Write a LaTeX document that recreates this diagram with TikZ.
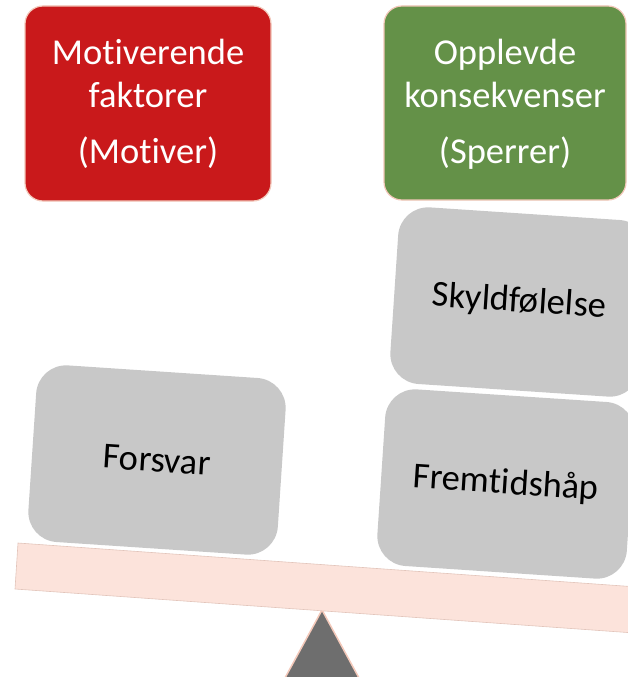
\documentclass[tikz,border=0pt]{standalone}
\usepackage{fontspec}
\setmainfont{Carlito}[Ligatures={NoCommon}]
\definecolor{motivred}{HTML}{C9191B}
\definecolor{barriergreen}{HTML}{649148}
\definecolor{headline}{HTML}{F2C6B8}
\definecolor{weightgray}{HTML}{C8C8C8}
\definecolor{beamfill}{HTML}{FCE3DB}
\definecolor{beamline}{HTML}{E2C4BA}
\definecolor{pivotgray}{HTML}{6E6E6E}
\definecolor{pivotline}{HTML}{F4C9BA}
\begin{document}
\begin{tikzpicture}[x=1pt,y=-1pt,
  header/.style={draw=headline, line width=1.2pt, rounded corners=18pt, inner sep=0pt},
  headtext/.style={text=white, font=\fontsize{36.5}{43}\selectfont, anchor=base, inner sep=0pt},
  weight/.style={fill=weightgray, rounded corners=30pt, minimum width=250pt,
    minimum height=177pt, rotate=-3.8, inner sep=0pt,
    font=\fontsize{36.5}{43}\selectfont, text=black}]
\path[use as bounding box] (0,0) rectangle (628,677);
\clip (0,0) rectangle (628,677);

% headings
\node[header, fill=motivred, minimum width=246pt, minimum height=195pt] (motiv) at (148,103.5) {};
\node[headtext] (motiv1) at (148,65) {Motiverende};
\node[headtext] (motiv2) at (148,107) {faktorer};
\node[headtext] (motiv3) at (148,163) {(Motiver)};

\node[header, fill=barriergreen, minimum width=242pt, minimum height=194pt] (sperr) at (505,103) {};
\node[headtext] (sperr1) at (505,65) {Opplevde};
\node[headtext] (sperr2) at (505,107) {konsekvenser};
\node[headtext] (sperr3) at (505,163) {(Sperrer)};

% fulcrum
\draw[fill=pivotgray, draw=pivotline, line width=1.5pt]
  (322,610) -- (371,700) -- (273,700) -- cycle;

% tilted beam
\draw[fill=beamfill, draw=beamline, line width=0.6pt]
  (18,543) -- (660,588.6) -- (657,634.6) -- (15,589) -- cycle;

% weights on the beam
\node[weight] (forsvar) at (157,460) {Forsvar};
\node[weight] (skyld) at (519,302) {Skyldfølelse};
\node[weight] (fremtid) at (506,484) {Fremtidshåp};
\end{tikzpicture}
\end{document}
